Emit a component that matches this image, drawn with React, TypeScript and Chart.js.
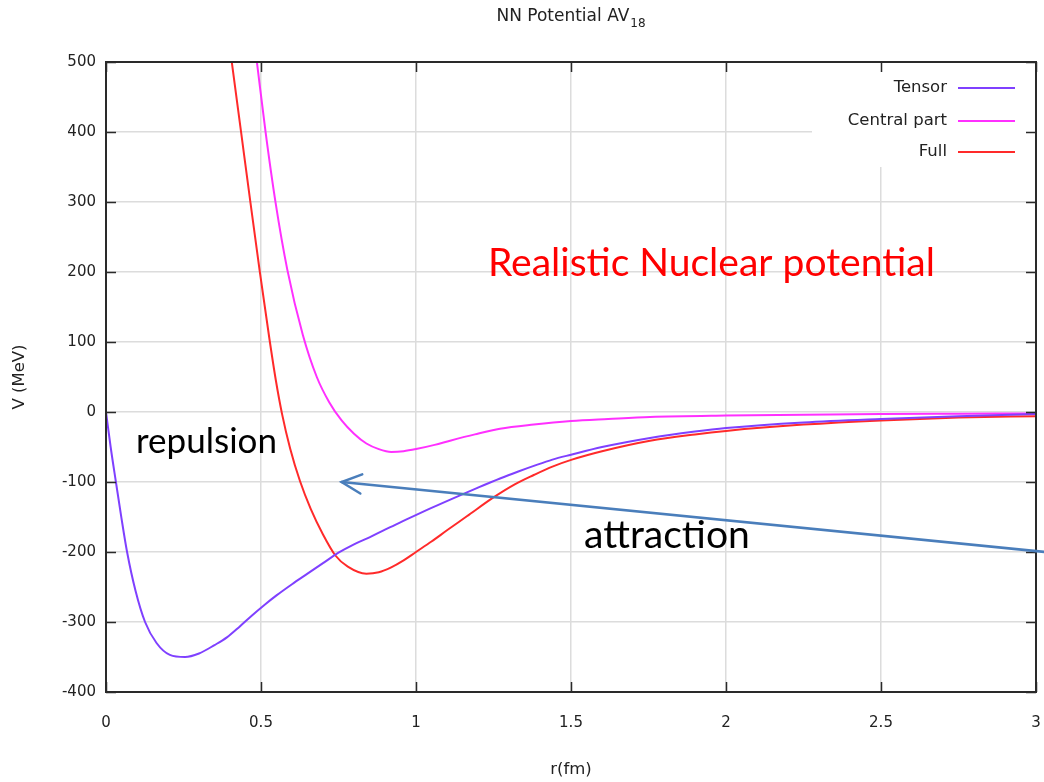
import React, { useEffect, useRef } from "react";
import { Chart, registerables } from "chart.js";

Chart.register(...registerables);

// ---------- text ----------
const TITLE_MAIN = "NN Potential AV";
const TITLE_SUB = "18";
const X_LABEL = "r(fm)";
const Y_LABEL = "V (MeV)";
const SERIES_NAMES = ["Tensor", "Central part", "Full"];

// ---------- axes ----------
const X_MIN = 0;
const X_MAX = 3;
const X_STEP = 0.5;
const Y_MIN = -400;
const Y_MAX = 500;
const Y_STEP = 100;

// ---------- series (r in fm, V in MeV) ----------
const rTensor = [0, 0.015, 0.032, 0.05, 0.068, 0.095, 0.126, 0.163, 0.206, 0.255, 0.3, 0.35, 0.39, 0.43, 0.47, 0.51, 0.55, 0.6, 0.65, 0.7, 0.75, 0.8, 0.85, 0.9, 0.948, 1.05, 1.142, 1.2, 1.271, 1.33, 1.38, 1.44, 1.5, 1.6, 1.755, 1.9, 2.0, 2.25, 2.5, 2.75, 3.0];
const vTensor = [0, -50, -100, -152, -200, -255, -300, -330, -347, -350, -345, -333, -322, -307, -291, -276, -262, -246, -231, -216, -201, -189, -179, -168, -158, -137, -119, -108, -95, -85, -77, -68, -61, -50, -37, -28, -23, -15, -10, -6, -3];

const rCentral = [0.46, 0.487, 0.515, 0.547, 0.585, 0.635, 0.68, 0.72, 0.76, 0.8, 0.84, 0.88, 0.92, 0.96, 1.0, 1.06, 1.11, 1.19, 1.271, 1.38, 1.5, 1.62, 1.755, 2.0, 2.25, 2.5, 2.75, 3.0];
const vCentral = [596, 499, 399, 299, 203, 110, 50, 14, -12, -31, -45, -53, -57, -56, -53, -47, -41, -32, -24, -18, -13, -10, -7, -5, -4, -3, -2.5, -2];

const rFull = [0.37, 0.406, 0.436, 0.466, 0.496, 0.527, 0.548, 0.568, 0.594, 0.626, 0.66, 0.7, 0.74, 0.78, 0.84, 0.88, 0.92, 0.96, 1.0, 1.05, 1.1, 1.164, 1.25, 1.32, 1.38, 1.44, 1.503, 1.6, 1.755, 1.9, 2.0, 2.25, 2.5, 2.75, 3.0];
const vFull = [620, 499, 399, 299, 201, 105, 45, -3, -52, -99, -138, -175, -205, -221, -231, -229, -222, -212, -200, -185, -169, -149, -122, -103, -90, -78, -68, -56, -41, -32, -27, -18, -12, -8, -6];

// ---------- annotations (in data units) ----------
const ARROW_FROM = { r: 3.03, v: -200 };
const ARROW_TO = { r: 0.76, v: -100 };
const NOTE_TEXTS = ["Realistic Nuclear potential", "repulsion", "attraction"];
const NOTE_POS = [
  { r: 1.232, v: 194, color: "#ff0000", width: 447 },
  { r: 0.097, v: -59, color: "#000000", width: 141 },
  { r: 1.542, v: -194, color: "#000000", width: 166 },
];

const COLORS = ["#7f40ff", "#ff30ff", "#ff2a2a"];
const TICK_FONT = "DejaVu Sans";
const NOTE_FONT = "Lato";

function makeTicks(min: number, max: number, step: number): number[] {
  const out: number[] = [];
  const n = Math.round((max - min) / step);
  for (let i = 0; i <= n; i++) out.push(min + i * step);
  return out;
}

const overlayPlugin = {
  id: "overlay",
  beforeDatasetsDraw(chart: any) {
    const { ctx, chartArea: a } = chart;
    ctx.save();
    ctx.fillStyle = "#ffffff";
    ctx.fillRect(a.right - 224, a.top, 224, 105);
    ctx.restore();
  },
  afterDatasetsDraw(chart: any) {
    const { ctx, chartArea: a, scales } = chart;
    const xs = scales.x;
    const ys = scales.y;
    ctx.save();

    // title with subscript, centred over the plot area
    ctx.fillStyle = "#222";
    ctx.textBaseline = "alphabetic";
    ctx.textAlign = "left";
    const mainFont = `17px "${TICK_FONT}"`;
    const subFont = `12px "${TICK_FONT}"`;
    ctx.font = mainFont;
    const wMain = ctx.measureText(TITLE_MAIN).width;
    ctx.font = subFont;
    const wSub = ctx.measureText(TITLE_SUB).width;
    const tx = (a.left + a.right) / 2 - (wMain + wSub + 1) / 2;
    ctx.font = mainFont;
    ctx.fillText(TITLE_MAIN, tx, 21);
    ctx.font = subFont;
    ctx.fillText(TITLE_SUB, tx + wMain + 1, 26.5);

    // border box
    ctx.strokeStyle = "#2a2a2a";
    ctx.lineWidth = 2;
    ctx.strokeRect(a.left, a.top, a.right - a.left, a.bottom - a.top);

    // inward ticks on all sides
    ctx.lineWidth = 1.5;
    const tl = 10;
    makeTicks(X_MIN, X_MAX, X_STEP).forEach((v) => {
      const px = Math.round(xs.getPixelForValue(v)) + 0.5;
      ctx.beginPath();
      ctx.moveTo(px, a.bottom);
      ctx.lineTo(px, a.bottom - tl);
      ctx.moveTo(px, a.top);
      ctx.lineTo(px, a.top + tl);
      ctx.stroke();
    });
    makeTicks(Y_MIN, Y_MAX, Y_STEP).forEach((v) => {
      const py = Math.round(ys.getPixelForValue(v)) + 0.5;
      ctx.beginPath();
      ctx.moveTo(a.left, py);
      ctx.lineTo(a.left + tl, py);
      ctx.moveTo(a.right, py);
      ctx.lineTo(a.right - tl, py);
      ctx.stroke();
    });

    // legend
    ctx.font = `16.5px "${TICK_FONT}"`;
    ctx.textAlign = "right";
    ctx.textBaseline = "middle";
    const rowY = [a.top + 26, a.top + 59, a.top + 90];
    SERIES_NAMES.forEach((name, i) => {
      ctx.fillStyle = "#222";
      ctx.fillText(name, a.right - 89, rowY[i]);
      ctx.strokeStyle = COLORS[i];
      ctx.lineWidth = 2;
      ctx.beginPath();
      ctx.moveTo(a.right - 78, rowY[i]);
      ctx.lineTo(a.right - 21, rowY[i]);
      ctx.stroke();
    });

    // arrow
    const x1 = xs.getPixelForValue(ARROW_FROM.r);
    const y1 = ys.getPixelForValue(ARROW_FROM.v);
    const x2 = xs.getPixelForValue(ARROW_TO.r);
    const y2 = ys.getPixelForValue(ARROW_TO.v);
    ctx.strokeStyle = "#4a7ebb";
    ctx.lineWidth = 2.5;
    ctx.lineCap = "round";
    ctx.beginPath();
    ctx.moveTo(x1, y1);
    ctx.lineTo(x2, y2);
    ctx.stroke();
    const ang = Math.atan2(y1 - y2, x1 - x2);
    const headLen = 22;
    const spread = (26 * Math.PI) / 180;
    ctx.beginPath();
    ctx.moveTo(x2 + headLen * Math.cos(ang - spread), y2 + headLen * Math.sin(ang - spread));
    ctx.lineTo(x2, y2);
    ctx.lineTo(x2 + headLen * Math.cos(ang + spread), y2 + headLen * Math.sin(ang + spread));
    ctx.stroke();

    // text notes
    ctx.textAlign = "left";
    ctx.textBaseline = "alphabetic";
    NOTE_TEXTS.forEach((t, i) => {
      const p = NOTE_POS[i];
      ctx.font = `40px "${NOTE_FONT}"`;
      const w = ctx.measureText(t).width;
      const size = (40 * p.width) / w;
      ctx.font = `${size.toFixed(2)}px "${NOTE_FONT}"`;
      ctx.fillStyle = p.color;
      ctx.fillText(t, xs.getPixelForValue(p.r), ys.getPixelForValue(p.v));
    });

    ctx.restore();
  },
};

export default function App() {
  const ref = useRef<HTMLCanvasElement | null>(null);

  useEffect(() => {
    if (!ref.current) return;
    const mk = (rs: number[], vs: number[]) => rs.map((r, i) => ({ x: r, y: vs[i] }));
    const chart = new Chart(ref.current, {
      type: "line",
      data: {
        datasets: [
          { label: SERIES_NAMES[0], data: mk(rTensor, vTensor), borderColor: COLORS[0] },
          { label: SERIES_NAMES[1], data: mk(rCentral, vCentral), borderColor: COLORS[1] },
          { label: SERIES_NAMES[2], data: mk(rFull, vFull), borderColor: COLORS[2] },
        ].map((d) => ({
          ...d,
          borderWidth: 2,
          pointRadius: 0,
          fill: false,
          cubicInterpolationMode: "monotone" as const,
        })),
      },
      options: {
        responsive: false,
        animation: false,
        devicePixelRatio: 1,
        layout: { padding: { left: 0, right: 8, top: 62, bottom: 0 } },
        plugins: {
          legend: { display: false },
          tooltip: { enabled: false },
          title: { display: false },
        },
        scales: {
          x: {
            type: "linear",
            min: X_MIN,
            max: X_MAX,
            ticks: {
              stepSize: X_STEP,
              padding: 22,
              color: "#222",
              font: { family: TICK_FONT, size: 15 },
              maxRotation: 0,
              callback: (v: any) => String(Number(v)),
            },
            grid: { color: "#dcdcdc", lineWidth: 1.5, drawTicks: false },
            border: { display: false },
            title: {
              display: true,
              text: X_LABEL,
              color: "#222",
              font: { family: TICK_FONT, size: 16.5 },
              padding: { top: 0, bottom: 2 },
            },
            afterFit: (s: any) => {
              s.height = 90;
              s.paddingLeft = 0;
              s.paddingRight = 0;
            },
          },
          y: {
            type: "linear",
            min: Y_MIN,
            max: Y_MAX,
            ticks: {
              stepSize: Y_STEP,
              padding: 10,
              color: "#222",
              font: { family: TICK_FONT, size: 15 },
            },
            grid: { color: "#dcdcdc", lineWidth: 1.5, drawTicks: false },
            border: { display: false },
            title: {
              display: true,
              text: Y_LABEL,
              color: "#222",
              font: { family: TICK_FONT, size: 16.5 },
              padding: { top: 10, bottom: 0 },
            },
            afterFit: (s: any) => {
              s.width = 106;
              s.paddingTop = 0;
              s.paddingBottom = 0;
            },
          },
        },
      },
      plugins: [overlayPlugin],
    });
    return () => chart.destroy();
  }, []);

  return (
    <div style={{ position: "fixed", left: 0, top: 0, width: 1044, height: 782, background: "#fff" }}>
      <canvas ref={ref} width={1044} height={782} style={{ display: "block" }} />
    </div>
  );
}
